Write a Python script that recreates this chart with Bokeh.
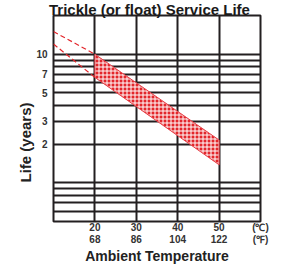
from bokeh.plotting import figure
from bokeh.models import FixedTicker, Title
from bokeh.embed import file_html
from bokeh.resources import INLINE

# ---- data ----
temps_c = [20, 30, 40, 50]
temps_f = [68, 86, 104, 122]
y_tick_values = [2, 3, 5, 7, 10]
y_grid_values = [0.5, 0.6, 0.7, 0.8, 0.9, 1, 2, 3, 4, 5, 6, 7, 8, 9, 10]

band_temp = [20, 50, 50, 20]
band_life = [10.0, 2.15, 1.38, 6.6]
upper_dash_temp = [10, 20]
upper_dash_life = [15.0, 10.0]
lower_dash_temp = [10, 20]
lower_dash_life = [12.0, 6.6]

title_text = "Trickle (or float) Service Life"
x_title = "Ambient Temperature"
y_title = "Life (years)"

RED = "#e3262b"
INK = "#231f20"
FONT = "Liberation Sans"

p = figure(width=284, height=266, x_range=(10, 60), y_range=(0.5, 20),
           y_axis_type="log", output_backend="svg", toolbar_location=None,
           min_border_left=53, min_border_right=24, min_border_top=15,
           min_border_bottom=44)
p.outline_line_color = INK
p.outline_line_width = 2
p.background_fill_color = "white"
p.border_fill_color = "white"

# title
p.title.text = title_text
p.title.align = "left"
p.title.offset = -4.5
p.title.standoff = -4
p.title.text_font = FONT
p.title.text_font_style = "bold"
p.title.text_font_size = "15px"
p.title.text_color = "#1a1a1a"

# grids
p.xgrid.ticker = FixedTicker(ticks=temps_c)
p.ygrid.ticker = FixedTicker(ticks=y_grid_values)
for g in (p.xgrid, p.ygrid):
    g.grid_line_color = INK
    g.grid_line_width = 2
    g.grid_line_alpha = 1.0

# x axis
xa = p.xaxis[0]
xa.ticker = FixedTicker(ticks=temps_c + [60])
ov = {c: f"{c}\n{f}" for c, f in zip(temps_c, temps_f)}
ov[60] = "(\u2103)\n(\u2109)"
xa.major_label_overrides = ov
xa.major_label_text_font = FONT
xa.major_label_text_font_style = "bold"
xa.major_label_text_font_size = "10px"
xa.major_label_text_color = "#333333"
xa.major_label_text_line_height = 1.1
xa.major_label_standoff = 0
xa.axis_line_color = None
xa.major_tick_line_color = None
xa.minor_tick_line_color = None
xa.major_tick_out = 0
xa.major_tick_in = 0
xa.minor_tick_out = 0
xa.minor_tick_in = 0
xa.axis_label = x_title
xa.axis_label_text_font = FONT
xa.axis_label_text_font_style = "bold"
xa.axis_label_text_font_size = "14px"
xa.axis_label_text_color = "#222222"
xa.axis_label_standoff = 0

# y axis
ya = p.yaxis[0]
ya.ticker = FixedTicker(ticks=y_tick_values, minor_ticks=[])
ya.major_label_overrides = {v: str(v) for v in y_tick_values}
ya.major_label_text_font = FONT
ya.major_label_text_font_style = "bold"
ya.major_label_text_font_size = "10px"
ya.major_label_text_color = "#333333"
ya.major_label_standoff = 6
ya.axis_line_color = None
ya.major_tick_line_color = None
ya.minor_tick_line_color = None
ya.major_tick_out = 0
ya.major_tick_in = 0
ya.minor_tick_out = 0
ya.minor_tick_in = 0

p.add_layout(Title(text=y_title, align="left", offset=39, standoff=0,
                   text_font=FONT, text_font_style="bold", text_font_size="15px",
                   text_color="#222222"), "left")

# band and extrapolation lines
p.patch(band_temp, band_life, fill_color=RED, line_color="#e8424a", line_width=1,
        hatch_pattern="+", hatch_color="white", hatch_scale=4, hatch_weight=1)
p.line(upper_dash_temp, upper_dash_life, line_color=RED, line_width=1.2, line_dash="5 3")
p.line(lower_dash_temp, lower_dash_life, line_color=RED, line_width=1.2, line_dash="5 3")

open("out.html", "w").write(file_html(p, INLINE))
